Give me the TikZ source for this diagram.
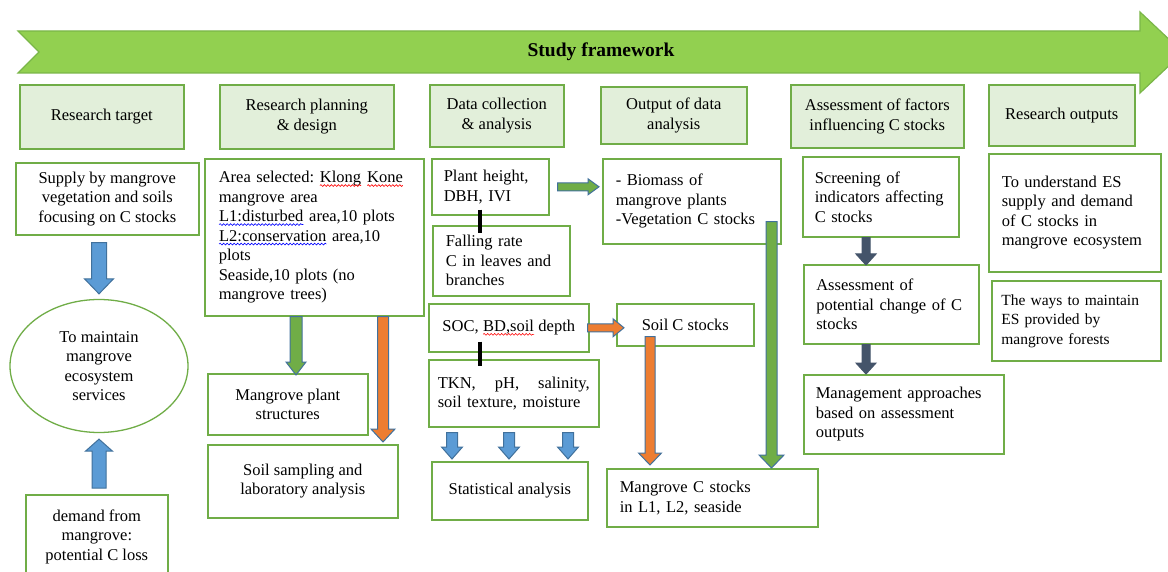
\documentclass[tikz,border=0pt]{standalone}
\usepackage{fontspec}
\setmainfont{Liberation Serif}
\usetikzlibrary{shapes.geometric,calc,decorations.pathmorphing}
\frenchspacing

\definecolor{bannergreen}{HTML}{92D050}
\definecolor{bannerline}{HTML}{7AB648}
\definecolor{headfill}{HTML}{E2EFDA}
\definecolor{boxline}{HTML}{70AD47}
\definecolor{arrblue}{HTML}{5B9BD5}
\definecolor{arrline}{HTML}{41719C}
\definecolor{arrgreen}{HTML}{70AD47}
\definecolor{arrorange}{HTML}{ED7D31}
\definecolor{arrdark}{HTML}{44546A}

\newcommand{\boxfont}{\fontsize{16.5}{19.5}\selectfont}

% spell-check waves under a word
\newcommand{\spell}[2]{\tikz[baseline=(w.base)]{\node[draw=none, fill=none, inner sep=0pt, outer sep=0pt,
  minimum width=0pt, minimum height=0pt, text width=, anchor=base, shape=rectangle] (w) at (0,0) {#2};
  \draw[draw=#1, line width=0.6pt, decorate, decoration={snake, amplitude=0.9pt, segment length=3.5pt}]
  ([yshift=-2.8pt]w.base west) -- ([yshift=-2.8pt]w.base east);}}

% block arrows: options, from, to, half shaft, half head, head length
\newcommand{\blockv}[6]{%
  \draw[arrowline, #1] let \p1=#2, \p2=#3, \n1={sign(\y2-\y1)} in
    (\x1-#4,\y1) -- (\x1-#4,\y2-\n1*#6) -- (\x1-#5,\y2-\n1*#6) -- (\x1,\y2)
    -- (\x1+#5,\y2-\n1*#6) -- (\x1+#4,\y2-\n1*#6) -- (\x1+#4,\y1) -- cycle;}
\newcommand{\blockh}[6]{%
  \draw[arrowline, #1] let \p1=#2, \p2=#3 in
    (\x1,\y1-#4) -- (\x2-#6,\y1-#4) -- (\x2-#6,\y1-#5) -- (\x2,\y1)
    -- (\x2-#6,\y1+#5) -- (\x2-#6,\y1+#4) -- (\x1,\y1+#4) -- cycle;}

\begin{document}
\begin{tikzpicture}[x=1pt, y=-1pt,
  head/.style={draw=boxline, fill=headfill, line width=1.6pt, font=\boxfont, align=center, inner sep=0pt, anchor=north west},
  box/.style={draw=boxline, fill=white, line width=1.6pt, font=\boxfont, inner sep=0pt, anchor=north west},
  arrowline/.style={draw=arrline, line width=1pt, line join=miter},
  link/.style={line width=4pt}]
\path[fill=white, use as bounding box] (0,0) rectangle (1168,572);

% banner
\draw[fill=bannergreen, draw=bannerline, line width=1.2pt] (18,31) -- (1140,31) -- (1140,12) -- (1183,52.5)
  -- (1140,93) -- (1140,73) -- (18,73) -- (39,52) -- cycle;
\node[font=\bfseries\fontsize{19.5}{23}\selectfont] (title) at (601,52) {Study framework};

% column heads
\node[head, minimum width=164pt, minimum height=64pt] (hTarget) at (19,84) {Research target};
\node[head, minimum width=174pt, minimum height=64pt] (hPlan) at (219,84) {Research planning\\ \& design};
\node[head, minimum width=134pt, minimum height=62pt] (hData) at (429,84) {Data collection\\ \& analysis};
\node[head, minimum width=146pt, minimum height=57pt] (hOutput) at (600,86) {Output of data\\ analysis};
\node[head, minimum width=173pt, minimum height=63pt] (hFactor) at (790,84) {Assessment of factors\\ influencing C stocks};
\node[head, minimum width=146pt, minimum height=61pt] (hResult) at (988,84) {Research outputs};

% research target
\node[box, align=center, minimum width=183pt, minimum height=72pt] (supply) at (15,162) {Supply by mangrove\\ vegetation and soils\\ focusing on C stocks};
\node[ellipse, draw=boxline, line width=1.3pt, font=\boxfont, align=center, minimum width=178pt, minimum height=133pt, inner sep=0pt] (goal) at (99,366) {To maintain\\ mangrove\\ ecosystem\\ services};
\node[box, align=center, minimum width=142pt, minimum height=84pt] (demand) at (25,494) {demand from\\ mangrove:\\ potential C loss};

% planning
\node[box, align=left, minimum width=219pt, minimum height=157pt, text width=191pt] (area) at (204,158)
  {Area selected: \spell{red}{Klong} \spell{red}{Kone}\\ mangrove area\\ \spell{blue}{L1:disturbed} area,10 plots\\ \spell{blue}{L2:conservation} area,10\\ plots\\ Seaside,10 plots (no\\ mangrove trees)};
\node[box, align=center, minimum width=160pt, minimum height=61pt] (plantS) at (207,373) {Mangrove plant\\ structures};
\node[box, align=center, minimum width=190pt, minimum height=73pt] (soilS) at (207,444) {Soil sampling and\\ laboratory analysis};

% data collection
\node[box, align=left, minimum width=117pt, minimum height=56pt, text width=93pt] (plantH) at (431,158) {Plant height,\\ DBH, IVI};
\node[box, align=left, minimum width=137pt, minimum height=70pt, text width=111pt] (falling) at (432,225) {Falling rate\\ C in leaves and\\ branches};
\node[box, align=left, minimum width=160pt, minimum height=48pt] (soc) at (428,303) {SOC, \spell{red}{BD,soil} depth};
\node[box, align=left, minimum width=170pt, minimum height=67pt, text width=152pt] (tkn) at (428,359) {TKN,\hfill pH,\hfill salinity,\\ soil texture, moisture};
\node[box, align=center, minimum width=156pt, minimum height=58pt] (stats) at (431,461) {Statistical analysis};

% outputs of analysis
\node[box, align=left, minimum width=178pt, minimum height=85pt, text width=152pt] (biomass) at (602,158) {- Biomass of\\ mangrove plants\\ -Vegetation C stocks};
\node[box, align=center, minimum width=137pt, minimum height=42pt] (soilC) at (616,303) {Soil C stocks};
\node[box, align=left, minimum width=211pt, minimum height=58pt, text width=185pt] (cstock) at (606,468) {Mangrove C stocks\\ in L1, L2, seaside};

% factors
\node[box, align=left, minimum width=156pt, minimum height=80pt, text width=132pt] (screen) at (802,156) {Screening of\\ indicators affecting\\ C stocks};
\node[box, align=left, minimum width=175pt, minimum height=79pt, text width=150pt] (assess) at (803,264) {Assessment of\\ potential change of C\\ stocks};
\node[box, align=left, minimum width=200pt, minimum height=79pt, text width=176pt] (manage) at (803,374) {Management approaches\\ based on assessment\\ outputs};

% research outputs
\node[box, align=left, minimum width=172pt, minimum height=118pt, text width=146pt] (understand) at (988,153) {To understand ES\\ supply and demand\\ of C stocks in\\ mangrove ecosystem};
\node[box, align=left, minimum width=169pt, minimum height=80pt, text width=150pt, font=\fontsize{15.5}{19.5}\selectfont] (ways) at (991,280) {The ways to maintain\\ ES provided by\\ mangrove forests};

% arrows
\coordinate (gx) at (296,0);
\coordinate (ox) at (383,0);
\coordinate (kx) at (480,0);
\coordinate (sx) at (650,0);
\coordinate (bx) at (771.5,0);
\coordinate (dx) at (866,0);

\blockv{fill=arrblue}{($(goal.north |- supply.south)+(0,7)$)}{($(goal.north)+(0,-5)$)}{7.5pt}{14.5pt}{15pt}
\blockv{fill=arrblue}{($(goal.south |- demand.north)+(0,-6)$)}{($(goal.south)+(0,6)$)}{7pt}{13.5pt}{12pt}
\blockv{fill=arrgreen}{(gx |- area.south)}{($(gx |- plantS.north)+(0,2)$)}{6pt}{10pt}{13pt}
\blockv{fill=arrorange}{(ox |- area.south)}{($(ox |- soilS.north)+(0,-2)$)}{5.5pt}{12pt}{13pt}
\blockh{fill=arrgreen}{($(plantH.east)+(8,0)$)}{($(biomass.west |- plantH.east)+(-3,0)$)}{4pt}{8pt}{11pt}
\blockh{fill=arrorange}{($(soc.east)+(-2,0)$)}{($(soilC.west |- soc.east)+(8,0)$)}{4pt}{9pt}{11pt}
\blockv{fill=arrorange}{($(sx |- soilC.south)+(0,-10)$)}{($(sx |- cstock.north)+(0,-3)$)}{5pt}{11.5pt}{12pt}
\blockv{fill=arrgreen}{($(bx |- biomass.south)+(0,-23)$)}{(bx |- cstock.north)}{5.5pt}{12.5pt}{13pt}
\blockv{fill=arrdark, draw=arrdark}{(dx |- screen.south)}{($(dx |- assess.north)+(0,1)$)}{4pt}{10pt}{11pt}
\blockv{fill=arrdark, draw=arrdark}{(dx |- assess.south)}{(dx |- manage.north)}{4pt}{10pt}{11pt}
\foreach \ax in {452,509,568} {
  \coordinate (ax) at (\ax,0);
  \blockv{fill=arrblue}{($(ax |- tkn.south)+(0,5)$)}{($(ax |- stats.north)+(0,-2)$)}{5.5pt}{10.5pt}{12pt}
}

\draw[link] ($(kx |- plantH.south)+(0,-6)$) -- ($(kx |- falling.north)+(0,8)$);
\draw[link] ($(kx |- soc.south)+(0,-11)$) -- ($(kx |- tkn.north)+(0,7)$);
\end{tikzpicture}
\end{document}
